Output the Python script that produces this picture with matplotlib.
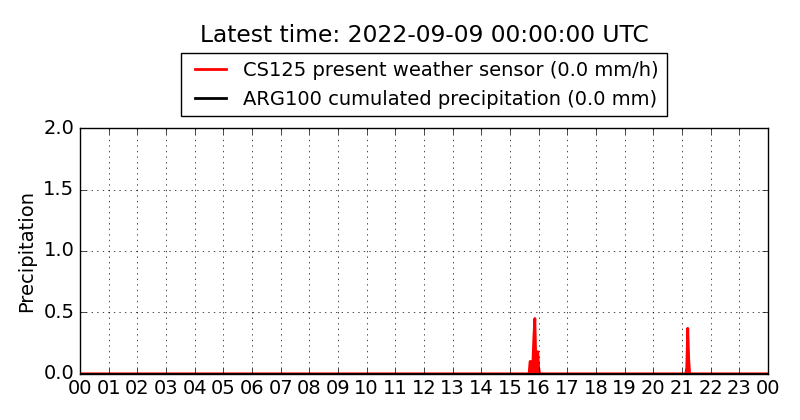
import matplotlib
matplotlib.use('Agg')
import matplotlib.pyplot as plt
import numpy as np

plt.style.use('classic')
plt.rcParams['figure.facecolor'] = 'white'
plt.rcParams['font.family'] = ['DejaVu Sans']

# time axis in hours, one sample every 2 minutes
hours = np.arange(0, 24 + 1e-9, 2 / 60.0)

# CS125 present weather sensor rain rate: zero except for these samples
cs125_times = [15.70, 15.73, 15.77, 15.80, 15.83, 15.87, 15.90, 15.93, 15.97, 16.00,
               21.17, 21.20, 21.23, 21.27]
cs125_vals = [0.10, 0.10, 0.10, 0.10, 0.30, 0.45, 0.10, 0.10, 0.18, 0.05,
              0.05, 0.37, 0.12, 0.0]

# ARG100 cumulated precipitation stays at zero
arg100_vals = np.zeros_like(hours)

cs125 = np.zeros_like(hours)
for t, v in zip(cs125_times, cs125_vals):
    cs125[np.argmin(np.abs(hours - t))] = v

xtick_labels = ['%02d' % (h % 24) for h in range(25)]

fig = plt.figure(figsize=(8, 4.2), dpi=100)
ax = fig.add_axes([0.1, 0.11, 0.86, 0.585])

ax.plot(hours, cs125, color='red', lw=2,
        label='CS125 present weather sensor (0.0 mm/h)')
ax.fill_between(hours, 0, cs125, color='red', lw=0)
ax.plot(hours, arg100_vals, color='black', lw=2,
        label='ARG100 cumulated precipitation (0.0 mm)')

ax.set_xlim(0, 24)
ax.set_ylim(0, 2.0)
ax.set_xticks(range(25))
ax.set_xticklabels(xtick_labels)
ax.set_yticks([0, 0.5, 1.0, 1.5, 2.0])
ax.tick_params(labelsize=14)
ax.set_ylabel('Precipitation', fontsize=14)
ax.grid(True, color='black', linestyle=':')

ax.legend(loc='lower center', bbox_to_anchor=(0.5, 1.0), fontsize=14,
          ncol=1, frameon=True, handlelength=2.2, handletextpad=0.6,
          borderaxespad=0.6)
fig.text(0.53, 0.915, 'Latest time: 2022-09-09 00:00:00 UTC',
         ha='center', va='center', fontsize=16.8)

fig.savefig('out.png', dpi=100)
